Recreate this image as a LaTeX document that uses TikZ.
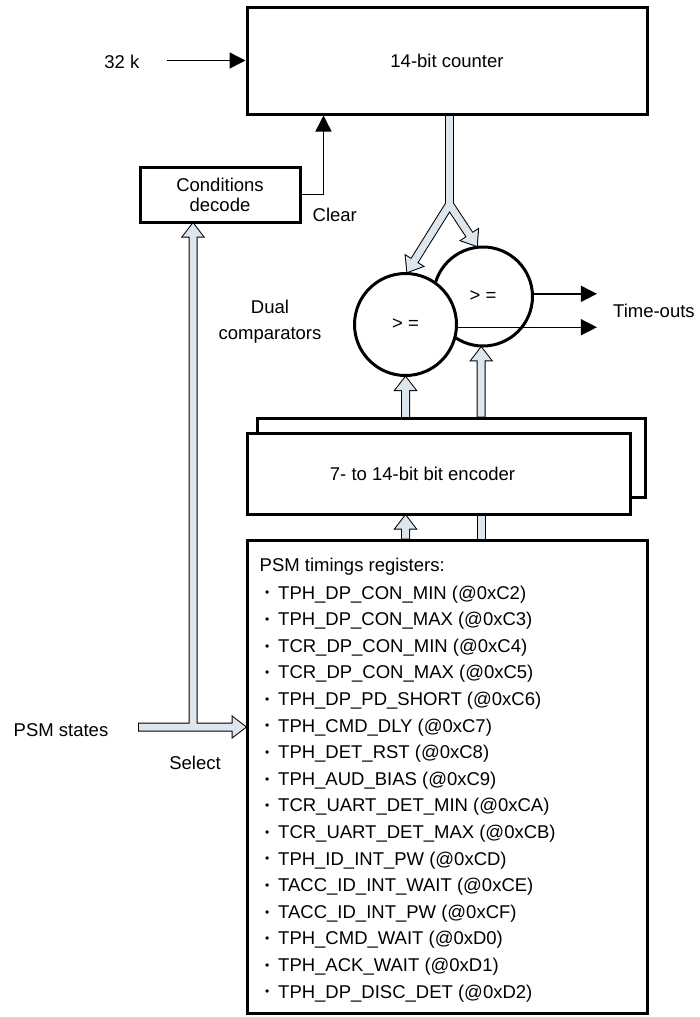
\documentclass[tikz,border=0pt]{standalone}
\usepackage{fontspec}
\setmainfont{Liberation Sans}
\usetikzlibrary{calc,arrows.meta}
\pgfdeclarelayer{background}
\pgfsetlayers{background,main}
\definecolor{busfill}{RGB}{221,229,237}
\newcommand\busw{3.5pt}
\newcommand\headw{10pt}
\newcommand\headl{13pt}
\newcommand\arrowpoly[2]{($(#1)!\busw!90:(#2)$) -- ($($(#2)!\headl!(#1)$)!\busw!-90:(#1)$) -- ($($(#2)!\headl!(#1)$)!\headw!-90:(#1)$) -- (#2) -- ($($(#2)!\headl!(#1)$)!\headw!90:(#1)$) -- ($($(#2)!\headl!(#1)$)!\busw!90:(#1)$) -- ($(#1)!\busw!-90:(#2)$) -- cycle}
\newcommand\barpoly[2]{($(#1)!\busw!90:(#2)$) -- ($(#2)!\busw!-90:(#1)$) -- ($(#2)!\busw!90:(#1)$) -- ($(#1)!\busw!-90:(#2)$) -- cycle}
\newcommand\allbus[1]{%
 \path[#1] \barpoly{stemtop}{stembot};
 \path[#1] \arrowpoly{split}{ltip};
 \path[#1] \arrowpoly{split}{rtip};
 \path[#1] \arrowpoly{lin0}{lin};
 \path[#1] \arrowpoly{rin0}{rin};
 \path[#1] \arrowpoly{rega}{enca};
 \path[#1] \barpoly{regb}{encb};
 \path[#1] \arrowpoly{selj}{seltop};
 \path[#1] \arrowpoly{psm0}{psm1};
}
\begin{document}
\begin{tikzpicture}[x=1pt,y=-1pt,
  txt/.style={font=\fontsize{18.5}{22}\selectfont, inner sep=0pt},
  blk/.style={draw, line width=3pt, fill=white, inner sep=0pt, font=\fontsize{18.5}{20}\selectfont, align=center},
  cmp/.style={circle, draw, line width=3pt, fill=white, inner sep=0pt, font=\fontsize{18.5}{22}\selectfont},
  sig/.style={line width=1.4pt, -{Triangle[length=16pt,width=16pt]}},
  busline/.style={draw=black, fill=black, line width=2pt, line join=miter},
  busin/.style={fill=busfill}]
\useasboundingbox (0,0) rectangle (699,1017);

% blocks
\node[blk, minimum width=400pt, minimum height=107pt] (counter) at (447,60.5) {14-bit counter};
\node[blk, minimum width=160pt, minimum height=55pt] (decode) at (220,194.5) {Conditions\\decode};
\node[blk, minimum width=388pt, minimum height=79pt] (encB) at (451,457.5) {};
\node[blk, minimum width=383pt, minimum height=81pt] (encF) at (438.5,473.5) {};
\node[txt] (enclbl) at ($(encF.center)+(-16,0)$) {7- to 14-bit bit encoder};
\node[blk, minimum width=400pt, minimum height=473pt] (reg) at (447,776.5) {};

% comparators
\node[cmp, minimum size=99pt] (rc) at (483,296.5) {> =};
\node[cmp, minimum size=102pt] (lc) at (405.5,324.5) {> =};

% register list
\node[txt, anchor=base west] (reghead) at ($(reg.north west)+(14,32.6)$) {PSM timings registers:};
\foreach \t [count=\i from 0] in {
  {TPH\_DP\_CON\_MIN (@0xC2)},
  {TPH\_DP\_CON\_MAX (@0xC3)},
  {TCR\_DP\_CON\_MIN (@0xC4)},
  {TCR\_DP\_CON\_MAX (@0xC5)},
  {TPH\_DP\_PD\_SHORT (@0xC6)},
  {TPH\_CMD\_DLY (@0xC7)},
  {TPH\_DET\_RST (@0xC8)},
  {TPH\_AUD\_BIAS (@0xC9)},
  {TCR\_UART\_DET\_MIN (@0xCA)},
  {TCR\_UART\_DET\_MAX (@0xCB)},
  {TPH\_ID\_INT\_PW (@0xCD)},
  {TACC\_ID\_INT\_WAIT (@0xCE)},
  {TACC\_ID\_INT\_PW (@0xCF)},
  {TPH\_CMD\_WAIT (@0xD0)},
  {TPH\_ACK\_WAIT (@0xD1)},
  {TPH\_DP\_DISC\_DET (@0xD2)}}
  \node[txt, anchor=base west] (item\i) at ($(reg.north west)+(19.5,60.6+26.6*\i)$)
    {{\fontsize{12}{12}\selectfont\raisebox{2.2pt}{\textbullet}}\hspace{8.8pt}\t};

% coordinates
\coordinate (stemtop) at ($(counter.south)+(2.5,0)$);
\coordinate (split) at ($(stemtop)+(0,89)$);
\coordinate (stembot) at ($(stemtop)+(0,95)$);
\coordinate (ltip) at (lc.88);
\coordinate (rtip) at (rc.97);
\coordinate (lin) at (lc.south);
\coordinate (lin0) at (lin |- encF.north);
\coordinate (rin) at (rc.268);
\coordinate (rin0) at (rin |- encB.north);
\coordinate (rega) at (lin |- reg.north);
\coordinate (enca) at (lin |- encF.south);
\coordinate (regb) at (rin |- reg.north);
\coordinate (encb) at (rin |- encF.south);
\coordinate (selj) at (193,727);
\coordinate (seltop) at (selj |- decode.south);
\coordinate (psm0) at (139,727);
\coordinate (psm1) at (selj -| reg.west);

\begin{pgfonlayer}{background}
\allbus{busline}
\allbus{busin}
\end{pgfonlayer}

% thin signals
\coordinate (clk) at ($(counter.west)+(-79,0)$);
\draw[sig] (clk) -- (counter.west);
\node[txt, anchor=east] (k32) at ($(clk)+(-27,1)$) {32 k};
\coordinate (clr) at ($(counter.south west)+(78,0)$);
\draw[sig] (decode.east) -| (clr);
\node[txt, anchor=west] (clrlbl) at ($(decode.south east)+(11,-9)$) {Clear};
\coordinate (o1) at ($(rc.3)+(63,0)$);
\coordinate (o2) at (o1 |- lc.-3);
\draw[sig] (rc.3) -- (o1);
\draw[sig] (lc.-3) -- (o2);
\node[txt, anchor=west] (tout) at ($(o1)!0.5!(o2)+(16,0)$) {Time-outs};

% labels
\node[txt, align=center, font=\fontsize{18.5}{26}\selectfont] (dual) at (270,322) {Dual\\comparators};
\node[txt] (psmlbl) at (61,730) {PSM states};
\node[txt] (sellbl) at (195,763) {Select};
\end{tikzpicture}
\end{document}
